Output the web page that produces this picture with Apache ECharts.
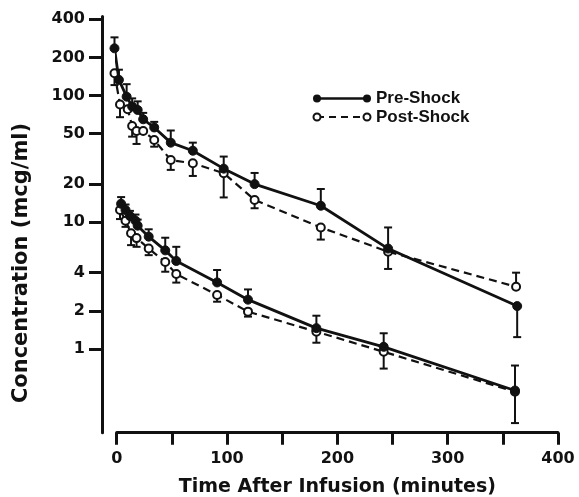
<!DOCTYPE html>
<html>
<head>
<meta charset="utf-8">
<script src="https://cdn.jsdelivr.net/npm/echarts@6.0.0/dist/echarts.min.js"></script>
<style>
html,body{margin:0;padding:0;background:#fff;}
#chart{width:579px;height:497px;}
</style>
</head>
<body>
<div id="chart"></div>
<script>
// ---- Data (time in minutes, concentration in mcg/ml) ----
const yTickValues = [1, 2, 4, 10, 20, 50, 100, 200, 400];
const xTickLabels = [0, 100, 200, 300, 400];

// Upper curves
const upperPreT   = [-2, 2, 9, 14, 19, 24, 34, 49, 69, 97, 125, 185, 246, 363];
const upperPreV   = [236, 133, 98, 82, 77, 65, 56, 42.5, 36.7, 26.5, 20, 13.5, 6.2, 2.18];
const upperPreHi  = [288, 160, 123, 95, 90, 73, 62, 53, 42.5, 33, 24.5, 18.3, 9.1, null];
const upperPreLo  = [null, null, null, null, null, null, null, null, null, null, null, null, null, 1.24];

const upperPostT  = [-2, 3, 10, 14, 18, 24, 34, 49, 69, 97, 125, 185, 246, 362];
const upperPostV  = [150, 85, 78, 57.5, 52.6, 52.6, 44.6, 31, 29.2, 24.4, 15, 9.1, 5.86, 3.1];
const upperPostLo = [121, 67.5, null, 47.4, 41.5, null, 39.5, 25.9, 23.2, 15.7, 12.9, 7.3, 4.28, null];
const upperPostHi = [null, null, null, null, null, null, null, null, null, null, null, null, null, 4.0];

// Lower curves
const lowerPreT   = [4, 8, 12, 17, 19, 29, 44, 54, 91, 119, 181, 242, 361];
const lowerPreV   = [14, 12.5, 11.2, 10.3, 9.4, 7.7, 6.0, 4.95, 3.35, 2.45, 1.46, 1.04, 0.47];
const lowerPreHi  = [15.8, 13.8, 12.3, 11.5, 10.5, 8.8, 7.55, 6.4, 4.2, 2.95, 1.83, 1.33, 0.74];
const lowerPreLo  = [null, null, null, null, null, null, null, null, null, null, null, null, 0.26];

const lowerPostT  = [3, 8, 13, 18, 29, 44, 54, 91, 119, 181, 242, 361];
const lowerPostV  = [12.5, 10.3, 8.2, 7.5, 6.2, 4.85, 3.9, 2.67, 1.97, 1.37, 0.95, 0.46];
const lowerPostLo = [10.6, 9.2, 6.6, 6.4, 5.5, 4.07, 3.34, 2.36, 1.8, 1.12, 0.70, null];
const lowerPostHi = [null, null, null, null, null, null, null, null, null, null, null, null];

const legendNames = ['Pre-Shock', 'Post-Shock'];

// ---- Helpers ----
const L = v => Math.log10(v);
function pts(t, v) { return t.map((x, i) => [x, L(v[i])]); }
function errs(t, v, lo, hi) {
  const out = [];
  t.forEach((x, i) => {
    if (lo[i] == null && hi[i] == null) return;
    const a = lo[i] != null ? lo[i] : v[i];
    const b = hi[i] != null ? hi[i] : v[i];
    out.push([x, L(a), L(b), lo[i] != null ? 1 : 0, hi[i] != null ? 1 : 0]);
  });
  return out;
}

const INK = '#111';
const CAP = 4;

function errorSeries(data) {
  return {
    type: 'custom',
    data: data,
    encode: { x: 0, y: [1, 2] },
    clip: false,
    z: 1,
    silent: true,
    renderItem: function (params, api) {
      const x = api.value(0);
      const p1 = api.coord([x, api.value(1)]);
      const p2 = api.coord([x, api.value(2)]);
      const children = [{
        type: 'line',
        shape: { x1: p1[0], y1: p1[1], x2: p2[0], y2: p2[1] },
        style: { stroke: INK, lineWidth: 2 }
      }];
      if (api.value(3)) children.push({
        type: 'line', shape: { x1: p1[0] - CAP, y1: p1[1], x2: p1[0] + CAP, y2: p1[1] },
        style: { stroke: INK, lineWidth: 2 }
      });
      if (api.value(4)) children.push({
        type: 'line', shape: { x1: p2[0] - CAP, y1: p2[1], x2: p2[0] + CAP, y2: p2[1] },
        style: { stroke: INK, lineWidth: 2 }
      });
      return { type: 'group', children: children };
    }
  };
}

function preLine(t, v) {
  return {
    type: 'line', name: legendNames[0], data: pts(t, v), clip: false, z: 3,
    symbol: 'circle', symbolSize: 9, showSymbol: true,
    lineStyle: { color: INK, width: 2.8, type: 'solid' },
    itemStyle: { color: INK, borderColor: INK, borderWidth: 1 },
    animation: false
  };
}
function postLine(t, v) {
  return {
    type: 'line', name: legendNames[1], data: pts(t, v), clip: false, z: 2,
    symbol: 'circle', symbolSize: 8, showSymbol: true,
    lineStyle: { color: INK, width: 2.2, type: [8, 5] },
    itemStyle: { color: '#fff', borderColor: INK, borderWidth: 2 },
    animation: false
  };
}

const chart = echarts.init(document.getElementById('chart'), null, { renderer: 'canvas' });

const gridTop = 16.6, gridBottomPx = 432.7;
const option = {
  backgroundColor: '#fff',
  animation: false,
  grid: { left: 116.7, right: 21, top: gridTop, bottom: 497 - gridBottomPx, containLabel: false, outerBoundsMode: 'none' },
  xAxis: {
    type: 'value', min: 0, max: 400, interval: 50,
    name: 'Time After Infusion (minutes)', nameLocation: 'middle', nameGap: 45,
    nameTextStyle: { fontFamily: 'DejaVu Sans', fontWeight: 'bold', fontSize: 19, color: INK },
    axisLine: { show: true, onZero: false, lineStyle: { color: INK, width: 3 } },
    axisTick: { show: true, length: 12, lineStyle: { color: INK, width: 3 } },
    axisLabel: {
      margin: 18, color: INK, fontFamily: 'DejaVu Sans', fontWeight: 'bold', fontSize: 16,
      formatter: v => (xTickLabels.indexOf(v) >= 0 ? String(v) : '')
    },
    splitLine: { show: false }
  },
  yAxis: {
    type: 'value', min: L(0.2183), max: L(420),
    offset: 14.7,
    axisLine: { show: true, onZero: false, lineStyle: { color: INK, width: 3 } },
    axisTick: { show: true, length: 13, customValues: yTickValues.map(L), lineStyle: { color: INK, width: 3 } },
    axisLabel: {
      margin: 17, color: INK, fontFamily: 'DejaVu Sans', fontWeight: 'bold', fontSize: 16,
      customValues: yTickValues.map(L),
      formatter: v => String(Math.round(Math.pow(10, v)))
    },
    splitLine: { show: false }
  },
  graphic: [
    { type: 'text', x: 22, y: 263, rotation: Math.PI / 2,
      style: { text: 'Concentration (mcg/ml)', fill: INK, font: 'bold 21px "DejaVu Sans"', textAlign: 'center', textVerticalAlign: 'middle' } },
    // legend: Pre-Shock
    { type: 'line', shape: { x1: 317, y1: 98.5, x2: 367, y2: 98.5 }, style: { stroke: INK, lineWidth: 2.5 } },
    { type: 'circle', shape: { cx: 317, cy: 98.5, r: 4 }, style: { fill: INK } },
    { type: 'circle', shape: { cx: 367, cy: 98.5, r: 4 }, style: { fill: INK } },
    { type: 'text', x: 376, y: 98, style: { text: legendNames[0], fill: INK, font: 'bold 17px "Liberation Sans"', textVerticalAlign: 'middle' } },
    // legend: Post-Shock
    { type: 'line', shape: { x1: 317, y1: 117, x2: 367, y2: 117 }, style: { stroke: INK, lineWidth: 2, lineDash: [7, 5] } },
    { type: 'circle', shape: { cx: 317, cy: 117, r: 3.5 }, style: { fill: '#fff', stroke: INK, lineWidth: 2 } },
    { type: 'circle', shape: { cx: 367, cy: 117, r: 3.5 }, style: { fill: '#fff', stroke: INK, lineWidth: 2 } },
    { type: 'text', x: 376, y: 117, style: { text: legendNames[1], fill: INK, font: 'bold 17px "Liberation Sans"', textVerticalAlign: 'middle' } }
  ],
  series: [
    errorSeries(errs(upperPreT, upperPreV, upperPreLo, upperPreHi)),
    errorSeries(errs(upperPostT, upperPostV, upperPostLo, upperPostHi)),
    errorSeries(errs(lowerPreT, lowerPreV, lowerPreLo, lowerPreHi)),
    errorSeries(errs(lowerPostT, lowerPostV, lowerPostLo, lowerPostHi)),
    postLine(upperPostT, upperPostV),
    postLine(lowerPostT, lowerPostV),
    preLine(upperPreT, upperPreV),
    preLine(lowerPreT, lowerPreV)
  ]
};
chart.setOption(option);
</script>
</body>
</html>
